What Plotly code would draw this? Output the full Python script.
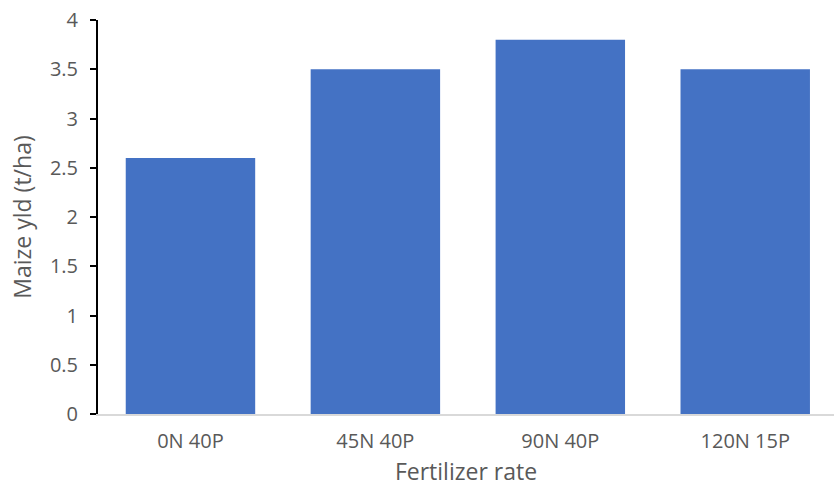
import plotly.graph_objects as go

categories = ["0N 40P", "45N 40P", "90N 40P", "120N 15P"]
yields = [2.6, 3.5, 3.8, 3.5]
y_ticks = [0, 0.5, 1, 1.5, 2, 2.5, 3, 3.5, 4]
y_tick_labels = ["0", "0.5", "1", "1.5", "2", "2.5", "3", "3.5", "4"]

font_family = "Open Sans, Liberation Sans, sans-serif"
grey = "#595959"

fig = go.Figure(go.Bar(
    x=categories, y=yields,
    marker=dict(color="#4472C4", line=dict(width=0)),
))

fig.update_layout(
    width=834, height=495,
    margin=dict(l=98, r=0, t=20, b=81),
    plot_bgcolor="white", paper_bgcolor="white",
    bargap=0.3,
    showlegend=False,
    font=dict(family=font_family, color=grey, size=18),
)
fig.update_xaxes(
    range=[-0.5, 3.48], automargin=False,
    showline=True, linecolor="#d9d9d9", linewidth=2,
    showgrid=False, ticks="", ticklabelstandoff=8,
    tickfont=dict(size=20, color=grey),
    title=dict(text="Fertilizer rate", font=dict(size=23, color=grey), standoff=11),
)
fig.update_yaxes(
    range=[0, 4], automargin=False,
    tickvals=y_ticks, ticktext=y_tick_labels,
    showline=True, linecolor="black", linewidth=2,
    ticks="outside", ticklen=6, tickcolor="black", tickwidth=2,
    showgrid=False, zeroline=False, ticklabelstandoff=8,
    tickfont=dict(size=20, color=grey),
    title=dict(text="Maize yld (t/ha)", font=dict(size=23, color=grey), standoff=12),
)

fig.write_html("out.html", config={"displayModeBar": False},
               post_script="document.body.style.margin='0';")
